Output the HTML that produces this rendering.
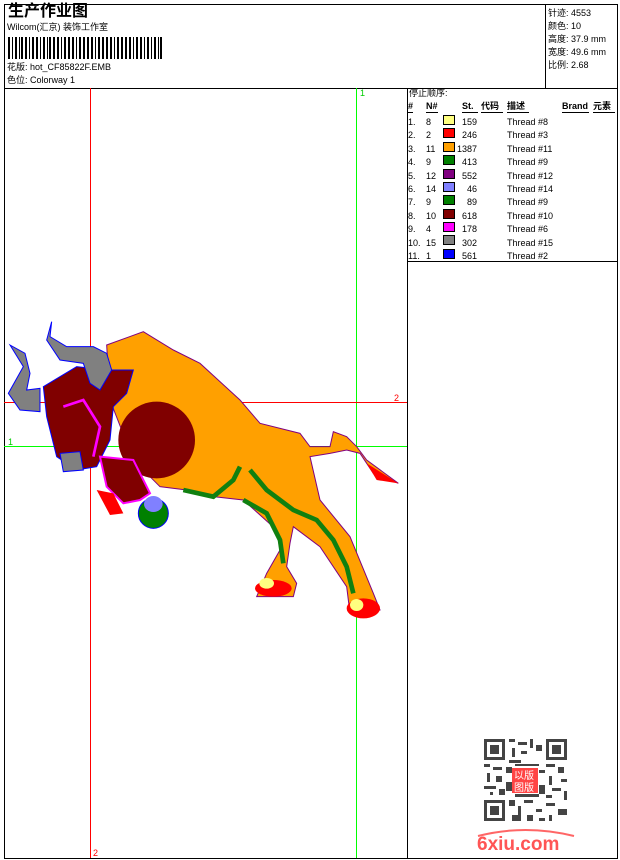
<!DOCTYPE html>
<html><head><meta charset="utf-8"><style>
html,body{margin:0;padding:0;background:#fff;}
body{width:620px;height:860px;position:relative;overflow:hidden;font-family:"Liberation Sans","Noto Sans CJK SC",sans-serif;font-size:9px;color:#000;}
.a{position:absolute;white-space:nowrap;line-height:1;}
</style></head><body>
<svg width="620" height="860" style="position:absolute;left:0;top:0">
<rect x="4.5" y="4.5" width="613" height="854" fill="none" stroke="#000"/>
<line x1="4" y1="88.5" x2="618" y2="88.5" stroke="#000"/>
<line x1="545.5" y1="4" x2="545.5" y2="88" stroke="#000"/>
<line x1="407.5" y1="88" x2="407.5" y2="858" stroke="#000"/>
<line x1="407" y1="261.5" x2="618" y2="261.5" stroke="#000"/>
<!-- barcode -->
<g fill="#000">
<rect x="8" y="37" width="2" height="22"/><rect x="12" y="37" width="1" height="22"/><rect x="15" y="37" width="2" height="22"/><rect x="19" y="37" width="1" height="22"/><rect x="21" y="37" width="2" height="22"/><rect x="25" y="37" width="2" height="22"/><rect x="29" y="37" width="1" height="22"/><rect x="32" y="37" width="2" height="22"/><rect x="36" y="37" width="2" height="22"/><rect x="40" y="37" width="1" height="22"/><rect x="43" y="37" width="2" height="22"/><rect x="47" y="37" width="1" height="22"/><rect x="49" y="37" width="2" height="22"/><rect x="53" y="37" width="2" height="22"/><rect x="57" y="37" width="2" height="22"/><rect x="61" y="37" width="1" height="22"/><rect x="64" y="37" width="2" height="22"/><rect x="68" y="37" width="2" height="22"/><rect x="72" y="37" width="2" height="22"/><rect x="76" y="37" width="1" height="22"/><rect x="79" y="37" width="2" height="22"/><rect x="83" y="37" width="2" height="22"/><rect x="87" y="37" width="2" height="22"/><rect x="91" y="37" width="2" height="22"/><rect x="95" y="37" width="1" height="22"/><rect x="98" y="37" width="2" height="22"/><rect x="102" y="37" width="2" height="22"/><rect x="106" y="37" width="2" height="22"/><rect x="110" y="37" width="2" height="22"/><rect x="114" y="37" width="1" height="22"/><rect x="117" y="37" width="2" height="22"/><rect x="121" y="37" width="2" height="22"/><rect x="125" y="37" width="2" height="22"/><rect x="129" y="37" width="2" height="22"/><rect x="133" y="37" width="1" height="22"/><rect x="136" y="37" width="2" height="22"/><rect x="140" y="37" width="2" height="22"/><rect x="144" y="37" width="1" height="22"/><rect x="147" y="37" width="2" height="22"/><rect x="151" y="37" width="1" height="22"/><rect x="154" y="37" width="2" height="22"/><rect x="158" y="37" width="1" height="22"/><rect x="160" y="37" width="2" height="22"/>
</g>
<!-- guides -->
<line x1="90.5" y1="88" x2="90.5" y2="858" stroke="#f00"/>
<line x1="356.5" y1="88" x2="356.5" y2="858" stroke="#0f0"/>
<line x1="4" y1="402.5" x2="407" y2="402.5" stroke="#f00"/>
<line x1="4" y1="446.5" x2="407" y2="446.5" stroke="#0f0"/>
<text x="360" y="96" fill="#0c0" font-size="9" font-family="Liberation Sans">1</text>
<text x="394" y="401" fill="#f00" font-size="9" font-family="Liberation Sans">2</text>
<text x="8" y="445" fill="#0c0" font-size="9" font-family="Liberation Sans">1</text>
<text x="93" y="856" fill="#f00" font-size="9" font-family="Liberation Sans">2</text>
<!-- bull -->
<svg x="0" y="300" width="410" height="330" viewBox="0 0 1230 990">
<polygon fill="#ffa000" stroke="#800080" stroke-width="3" points="320,135 430,95 520,150 600,190 720,300 780,370 900,400 930,440 990,440 1000,395 1040,410 1070,440 1100,480 1195,550 1120,520 1080,460 1040,450 990,460 930,470 960,600 1050,710 1120,880 1140,930 1050,940 1040,860 960,740 880,680 870,730 860,800 890,850 880,890 770,890 800,820 840,750 830,690 730,600 640,590 560,570 480,560 400,480 330,300"/>
<polyline fill="none" stroke="#108010" stroke-width="14" points="550,570 640,590 700,540 720,500"/>
<polyline fill="none" stroke="#108010" stroke-width="14" points="750,510 800,570 880,630 950,660 1000,720 1040,800 1060,880"/>
<polyline fill="none" stroke="#108010" stroke-width="14" points="730,600 800,640 840,720 850,790"/>
<ellipse cx="470" cy="420" rx="115" ry="115" fill="#800000"/>
<polygon fill="#800000" stroke="#0000ff" stroke-width="3" points="130,260 230,200 320,210 400,210 380,280 340,320 330,420 290,500 230,510 170,470 140,350"/>
<polygon fill="#808080" stroke="#0000ff" stroke-width="3" points="30,135 75,160 90,220 80,270 120,265 120,335 60,330 25,280 70,200"/>
<polygon fill="#808080" stroke="#0000ff" stroke-width="3" points="155,65 150,110 200,140 280,140 320,160 335,210 300,270 270,250 250,190 180,180 140,120"/>
<polygon fill="#808080" stroke="#0000ff" stroke-width="3" points="180,460 240,455 250,510 190,515"/>
<polyline fill="none" stroke="#ff00ff" stroke-width="8" points="190,320 250,300 300,380 280,470"/>
<polygon fill="#800000" stroke="#ff00ff" stroke-width="6" points="300,470 400,480 450,580 420,600 370,610 320,560"/>
<polygon fill="#ff0000" points="290,570 340,580 370,640 330,645"/>
<ellipse cx="460" cy="640" rx="45" ry="45" fill="#008000" stroke="#0000ff" stroke-width="3"/>
<ellipse cx="460" cy="612" rx="28" ry="24" fill="#8080ff"/>
<ellipse cx="820" cy="865" rx="55" ry="25" fill="#ff0000"/>
<ellipse cx="800" cy="850" rx="22" ry="16" fill="#ffff80"/>
<ellipse cx="1090" cy="925" rx="50" ry="30" fill="#ff0000"/>
<ellipse cx="1070" cy="915" rx="20" ry="18" fill="#ffff80"/>
<polygon fill="#ff0000" points="1100,490 1195,550 1130,540"/>
</svg>
<!-- QR -->
<g fill="#444">
<rect x="484" y="739" width="21" height="21"/><rect x="487" y="742" width="15" height="15" fill="#fff"/><rect x="490" y="745" width="9" height="9"/>
<rect x="546" y="739" width="21" height="21"/><rect x="549" y="742" width="15" height="15" fill="#fff"/><rect x="552" y="745" width="9" height="9"/>
<rect x="484" y="800" width="21" height="21"/><rect x="487" y="803" width="15" height="15" fill="#fff"/><rect x="490" y="806" width="9" height="9"/>
<rect x="509" y="739" width="6" height="3"/><rect x="518" y="742" width="9" height="3"/><rect x="530" y="739" width="3" height="9"/><rect x="536" y="745" width="6" height="6"/><rect x="512" y="748" width="3" height="9"/><rect x="521" y="751" width="6" height="3"/><rect x="509" y="760" width="12" height="3"/>
<rect x="484" y="764" width="6" height="3"/><rect x="493" y="767" width="9" height="3"/><rect x="487" y="773" width="3" height="9"/><rect x="496" y="776" width="6" height="6"/><rect x="484" y="786" width="12" height="3"/><rect x="499" y="789" width="6" height="6"/><rect x="490" y="792" width="3" height="3"/>
<rect x="546" y="764" width="9" height="3"/><rect x="558" y="767" width="6" height="6"/><rect x="549" y="776" width="3" height="9"/><rect x="561" y="779" width="6" height="3"/><rect x="552" y="788" width="9" height="3"/><rect x="564" y="791" width="3" height="9"/><rect x="546" y="795" width="6" height="3"/>
<rect x="509" y="800" width="6" height="6"/><rect x="518" y="806" width="3" height="9"/><rect x="524" y="800" width="9" height="3"/><rect x="536" y="809" width="6" height="3"/><rect x="546" y="803" width="9" height="3"/><rect x="558" y="809" width="9" height="6"/><rect x="549" y="815" width="3" height="6"/><rect x="512" y="815" width="9" height="6"/><rect x="527" y="815" width="6" height="6"/><rect x="539" y="818" width="6" height="3"/>
<rect x="506" y="767" width="6" height="6"/><rect x="506" y="782" width="6" height="9"/><rect x="539" y="770" width="6" height="3"/><rect x="539" y="785" width="6" height="9"/><rect x="515" y="794" width="24" height="3"/><rect x="515" y="764" width="24" height="2"/>
</g>
<rect x="512" y="768" width="26" height="25" fill="#f44" />
<text x="514" y="779" fill="#fff" font-size="10" font-family="Noto Sans CJK SC">以版</text>
<text x="514" y="791" fill="#fff" font-size="10" font-family="Noto Sans CJK SC">图版</text>
<path d="M478 836 Q525 824 574 836" fill="none" stroke="#f66" stroke-width="2"/>
<text x="477" y="850" fill="#f55" font-size="19" font-weight="bold" font-family="Liberation Sans">6xiu.com</text>
<!-- swatches -->
<g stroke="#000" stroke-width="1">
<rect x="443.5" y="115.5" width="11" height="9" fill="#ffff80"/>
<rect x="443.5" y="128.5" width="11" height="9" fill="#ff0000"/>
<rect x="443.5" y="142.5" width="11" height="9" fill="#ffa000"/>
<rect x="443.5" y="155.5" width="11" height="9" fill="#008000"/>
<rect x="443.5" y="169.5" width="11" height="9" fill="#800080"/>
<rect x="443.5" y="182.5" width="11" height="9" fill="#8080ff"/>
<rect x="443.5" y="195.5" width="11" height="9" fill="#008000"/>
<rect x="443.5" y="209.5" width="11" height="9" fill="#800000"/>
<rect x="443.5" y="222.5" width="11" height="9" fill="#ff00ff"/>
<rect x="443.5" y="235.5" width="11" height="9" fill="#808080"/>
<rect x="443.5" y="249.5" width="11" height="9" fill="#0000ff"/>
</g>
<g stroke="#000"><line x1="408" y1="112.5" x2="413" y2="112.5"/><line x1="426" y1="112.5" x2="438" y2="112.5"/><line x1="462" y1="112.5" x2="478" y2="112.5"/><line x1="481" y1="112.5" x2="503" y2="112.5"/><line x1="507" y1="112.5" x2="529" y2="112.5"/><line x1="562" y1="112.5" x2="589" y2="112.5"/><line x1="593" y1="112.5" x2="615" y2="112.5"/></g>
</svg>
<div class="a" style="left:8px;top:4px;font-size:16px;font-weight:bold;">生产作业图</div>
<div class="a" style="left:7px;top:23px;font-size:9px;">Wilcom(汇京) 装饰工作室</div>
<div class="a" style="left:7px;top:63px;font-size:9px;">花版: hot_CF85822F.EMB</div>
<div class="a" style="left:7px;top:76px;font-size:9px;">色位: Colorway 1</div>
<div class="a" style="left:548px;top:7px;font-size:9px;line-height:13px;">针迹: 4553<br>颜色: 10<br>高度: 37.9 mm<br>宽度: 49.6 mm<br>比例: 2.68</div>
<div class="a" style="left:409px;top:89px;font-size:9px;">停止顺序:</div>
<div class="a" style="left:408px;top:102px;font-size:9px;font-weight:bold;">#</div>
<div class="a" style="left:426px;top:102px;font-size:9px;font-weight:bold;">N#</div>
<div class="a" style="left:462px;top:102px;font-size:9px;font-weight:bold;">St.</div>
<div class="a" style="left:481px;top:102px;font-size:9px;font-weight:bold;">代码</div>
<div class="a" style="left:507px;top:102px;font-size:9px;font-weight:bold;">描述</div>
<div class="a" style="left:562px;top:102px;font-size:9px;font-weight:bold;">Brand</div>
<div class="a" style="left:593px;top:102px;font-size:9px;font-weight:bold;">元素</div>
<div class="a" style="left:408px;top:116px;line-height:13.4px;">1.<br>2.<br>3.<br>4.<br>5.<br>6.<br>7.<br>8.<br>9.<br>10.<br>11.</div>
<div class="a" style="left:426px;top:116px;line-height:13.4px;">8<br>2<br>11<br>9<br>12<br>14<br>9<br>10<br>4<br>15<br>1</div>
<div class="a" style="left:455px;width:22px;text-align:right;top:116px;line-height:13.4px;">159<br>246<br>1387<br>413<br>552<br>46<br>89<br>618<br>178<br>302<br>561</div>
<div class="a" style="left:507px;top:116px;line-height:13.4px;">Thread #8<br>Thread #3<br>Thread #11<br>Thread #9<br>Thread #12<br>Thread #14<br>Thread #9<br>Thread #10<br>Thread #6<br>Thread #15<br>Thread #2</div>
</body></html>
